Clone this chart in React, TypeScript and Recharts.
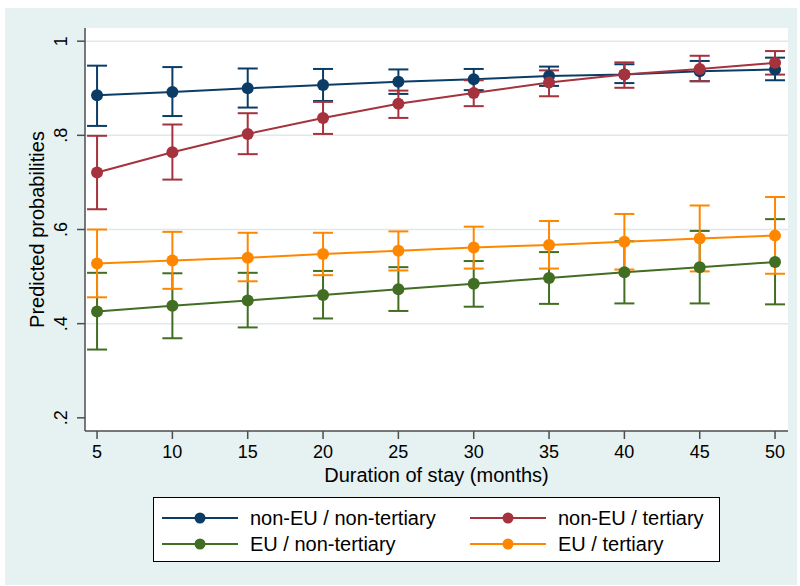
import React from 'react';
import { ComposedChart, Line, ErrorBar, XAxis, YAxis, CartesianGrid } from 'recharts';

const months = [5, 10, 15, 20, 25, 30, 35, 40, 45, 50];

// point estimates
const nonEuNonTert = [0.885, 0.892, 0.9, 0.907, 0.914, 0.919, 0.926, 0.929, 0.936, 0.94];
const nonEuTert = [0.721, 0.764, 0.803, 0.837, 0.867, 0.89, 0.912, 0.929, 0.941, 0.954];
const euNonTert = [0.426, 0.438, 0.449, 0.461, 0.473, 0.485, 0.497, 0.509, 0.52, 0.531];
const euTert = [0.528, 0.534, 0.54, 0.548, 0.555, 0.562, 0.567, 0.574, 0.581, 0.587];

// confidence intervals
const nonEuNonTertLo = [0.82, 0.841, 0.859, 0.873, 0.888, 0.896, 0.905, 0.911, 0.915, 0.917];
const nonEuNonTertHi = [0.948, 0.945, 0.942, 0.941, 0.94, 0.941, 0.946, 0.951, 0.958, 0.965];
const nonEuTertLo = [0.643, 0.706, 0.76, 0.803, 0.837, 0.862, 0.883, 0.901, 0.915, 0.929];
const nonEuTertHi = [0.799, 0.823, 0.847, 0.871, 0.895, 0.917, 0.938, 0.955, 0.969, 0.979];
const euNonTertLo = [0.345, 0.369, 0.392, 0.411, 0.427, 0.436, 0.442, 0.443, 0.443, 0.441];
const euNonTertHi = [0.508, 0.507, 0.508, 0.512, 0.52, 0.533, 0.552, 0.575, 0.597, 0.622];
const euTertLo = [0.456, 0.474, 0.49, 0.503, 0.513, 0.517, 0.517, 0.515, 0.511, 0.506];
const euTertHi = [0.6, 0.595, 0.593, 0.593, 0.596, 0.606, 0.618, 0.633, 0.651, 0.669];

const yTicks = [0.2, 0.4, 0.6, 0.8, 1];

const series = [
  { key: 'nonEuNonTert', name: 'non-EU / non-tertiary', color: '#0b3c66', vals: nonEuNonTert, lo: nonEuNonTertLo, hi: nonEuNonTertHi },
  { key: 'nonEuTert', name: 'non-EU / tertiary', color: '#a5323c', vals: nonEuTert, lo: nonEuTertLo, hi: nonEuTertHi },
  { key: 'euNonTert', name: 'EU / non-tertiary', color: '#416e23', vals: euNonTert, lo: euNonTertLo, hi: euNonTertHi },
  { key: 'euTert', name: 'EU / tertiary', color: '#ff8700', vals: euTert, lo: euTertLo, hi: euTertHi },
];

const data = months.map((m, i) => {
  const row: any = { month: m };
  series.forEach((s) => {
    row[s.key] = s.vals[i];
    row[s.key + 'Err'] = [s.vals[i] - s.lo[i], s.hi[i] - s.vals[i]];
  });
  return row;
});

const FONT = '"Liberation Sans", Arial, sans-serif';
const AXIS = '#4d4d4d';

const fmtY = (v: number) => (v === 1 ? '1' : String(v).replace(/^0/, ''));

// stata-style rotated y tick labels
const YTick = (props: any) => {
  const { x, y, payload } = props;
  const bx = x - 8;
  return (
    <text
      x={bx}
      y={y}
      transform={`rotate(-90 ${bx} ${y})`}
      textAnchor="middle"
      fontSize={18}
      fontFamily={FONT}
      fill="#000"
    >
      {fmtY(payload.value)}
    </text>
  );
};

export default function App() {
  return (
    <div style={{ position: 'absolute', left: 0, top: 0, width: 800, height: 586, background: '#fff' }}>
      <div style={{ position: 'absolute', left: 5, top: 8, width: 792, height: 577, background: '#e6f1f1' }} />
      <div style={{ position: 'absolute', left: 0, top: 0 }}>
        <ComposedChart
          width={800}
          height={586}
          data={data}
          margin={{ top: 28, right: 12, bottom: 95, left: 25 }}
        >
          <CartesianGrid
            vertical={false}
            horizontalValues={[0.4, 0.6, 0.8, 1]}
            stroke="#dde9ea"
            strokeWidth={1.5}
            fill="#ffffff"
          />
          <XAxis
            dataKey="month"
            type="number"
            domain={[4.2, 50.86]}
            ticks={months}
            allowDataOverflow
            stroke={AXIS}
            strokeWidth={1.5}
            tickSize={8}
            tickMargin={6}
            height={60}
            tick={{ fill: '#000', fontSize: 18, fontFamily: FONT }}
            label={{ value: 'Duration of stay (months)', position: 'insideBottom', offset: 9, fill: '#000', fontSize: 20, fontFamily: FONT }}
          />
          <YAxis
            type="number"
            domain={[0.172, 1.028]}
            ticks={yTicks}
            allowDataOverflow
            stroke={AXIS}
            strokeWidth={1.5}
            tickSize={8}
            tickMargin={2}
            width={60}
            tick={<YTick />}
            label={{ value: 'Predicted probabilities', angle: -90, position: 'center', dx: -18, fill: '#000', fontSize: 20, fontFamily: FONT }}
          />
          {series.map((s) => (
            <Line
              key={s.key}
              dataKey={s.key}
              name={s.name}
              stroke={s.color}
              strokeWidth={2}
              dot={{ r: 6, fill: s.color, stroke: s.color, strokeWidth: 0 }}
              activeDot={false}
              isAnimationActive={false}
            >
              <ErrorBar dataKey={s.key + 'Err'} width={10} stroke={s.color} strokeWidth={2} direction="y" />
            </Line>
          ))}
        </ComposedChart>
      </div>
      <div
        style={{
          position: 'absolute',
          left: 153,
          top: 497,
          width: 565,
          height: 63,
          background: '#fff',
          border: '1px solid #000',
          fontFamily: FONT,
          fontSize: 20,
          color: '#000',
        }}
      >
        {series.map((s, i) => (
          <div
            key={s.key}
            style={{
              position: 'absolute',
              left: i % 2 === 0 ? 8 : 316,
              top: i < 2 ? 8 : 34,
              height: 24,
              display: 'flex',
              alignItems: 'center',
              whiteSpace: 'nowrap',
            }}
          >
            <svg width={76} height={24} style={{ display: 'block' }}>
              <line x1={0} y1={12} x2={76} y2={12} stroke={s.color} strokeWidth={2} />
              <circle cx={38} cy={12} r={5.5} fill={s.color} />
            </svg>
            <span style={{ marginLeft: 12 }}>{s.name}</span>
          </div>
        ))}
      </div>
    </div>
  );
}
